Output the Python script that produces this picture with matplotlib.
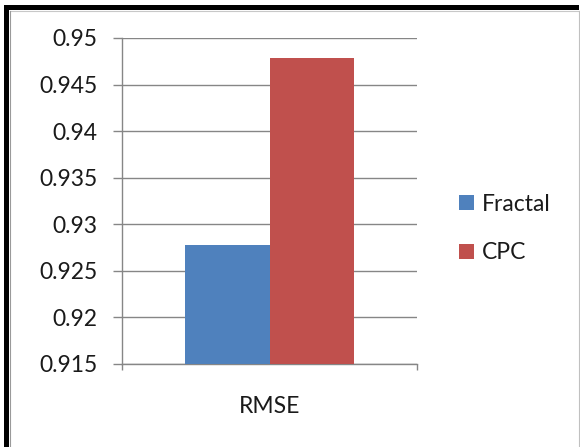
import matplotlib
matplotlib.use("Agg")
import matplotlib.pyplot as plt
from matplotlib.lines import Line2D
from matplotlib.patches import Rectangle

# Data
categories = ["RMSE"]
series_names = ["Fractal", "CPC"]
fractal_values = [0.9278]
cpc_values = [0.9479]
y_ticks = [0.915, 0.92, 0.925, 0.93, 0.935, 0.94, 0.945, 0.95]
y_tick_labels = ["0.915", "0.92", "0.925", "0.93", "0.935", "0.94", "0.945", "0.95"]

colors = ["#4F81BD", "#C0504D"]
grid_color = "#868686"
text_color = "#1a1a1a"

plt.rcParams["font.family"] = ["Lato", "DejaVu Sans"]

W, H = 580, 447
fig = plt.figure(figsize=(W / 100, H / 100), dpi=100)
fig.patch.set_facecolor("white")

ax = fig.add_axes([122 / W, 1 - 364 / H, 295 / W, (364 - 38) / H])

bar_w = 0.285
x = list(range(len(categories)))
ax.bar([xi - bar_w / 2 for xi in x], fractal_values, width=bar_w, color=colors[0],
       label=series_names[0], zorder=3)
ax.bar([xi + bar_w / 2 for xi in x], cpc_values, width=bar_w, color=colors[1],
       label=series_names[1], zorder=3)

ax.set_xlim(-0.5, len(categories) - 0.5)
ax.set_ylim(y_ticks[0], y_ticks[-1])
ax.set_yticks(y_ticks)
ax.set_yticklabels(y_tick_labels)
ax.yaxis.grid(True, color=grid_color, linewidth=1.0, zorder=0)
ax.set_axisbelow(True)

ax.set_xticks(x)
ax.set_xticklabels(categories)
ax.set_xticks([-0.5 + i for i in range(len(categories) + 1)], minor=True)

for s in ["top", "right"]:
    ax.spines[s].set_visible(False)
for s in ["left", "bottom"]:
    ax.spines[s].set_color(grid_color)
    ax.spines[s].set_linewidth(1.0)

ax.tick_params(axis="y", direction="out", length=6.5, width=1.0, color=grid_color,
               labelsize=16.5, labelcolor=text_color, pad=11)
ax.tick_params(axis="x", which="major", length=0, labelsize=16.5,
               labelcolor=text_color, pad=23)
ax.tick_params(axis="x", which="minor", direction="out", length=4, width=1.0,
               color=grid_color)

leg = fig.legend(loc="center left", bbox_to_anchor=(459 / W, 1 - 228.5 / H),
                 frameon=False, fontsize=16.5, handlelength=0.65, handleheight=0.65,
                 handletextpad=0.35, labelspacing=1.2, borderpad=0, borderaxespad=0)
for t in leg.get_texts():
    t.set_color(text_color)

# Outer frame: thick black left/top edges, thin gray right edge
fig.add_artist(Rectangle((4 / W, 0), 5 / W, 1 - 5 / H, transform=fig.transFigure,
                         facecolor="black", edgecolor="none"))
fig.add_artist(Rectangle((4 / W, 1 - 10 / H), 1 - 5 / W, 5 / H, transform=fig.transFigure,
                         facecolor="black", edgecolor="none"))
fig.add_artist(Line2D([9.5 / W, 579.5 / W], [1 - 10.5 / H, 1 - 10.5 / H],
                      transform=fig.transFigure, color="#c8c8c8", linewidth=0.8))
fig.add_artist(Line2D([9.5 / W, 9.5 / W], [0, 1 - 10.5 / H],
                      transform=fig.transFigure, color="#9a9a9a", linewidth=0.8))
fig.add_artist(Line2D([578.8 / W, 578.8 / W], [0, 1 - 10.5 / H],
                      transform=fig.transFigure, color="#c0c0c0", linewidth=0.8))

fig.savefig("out.png", dpi=100)
